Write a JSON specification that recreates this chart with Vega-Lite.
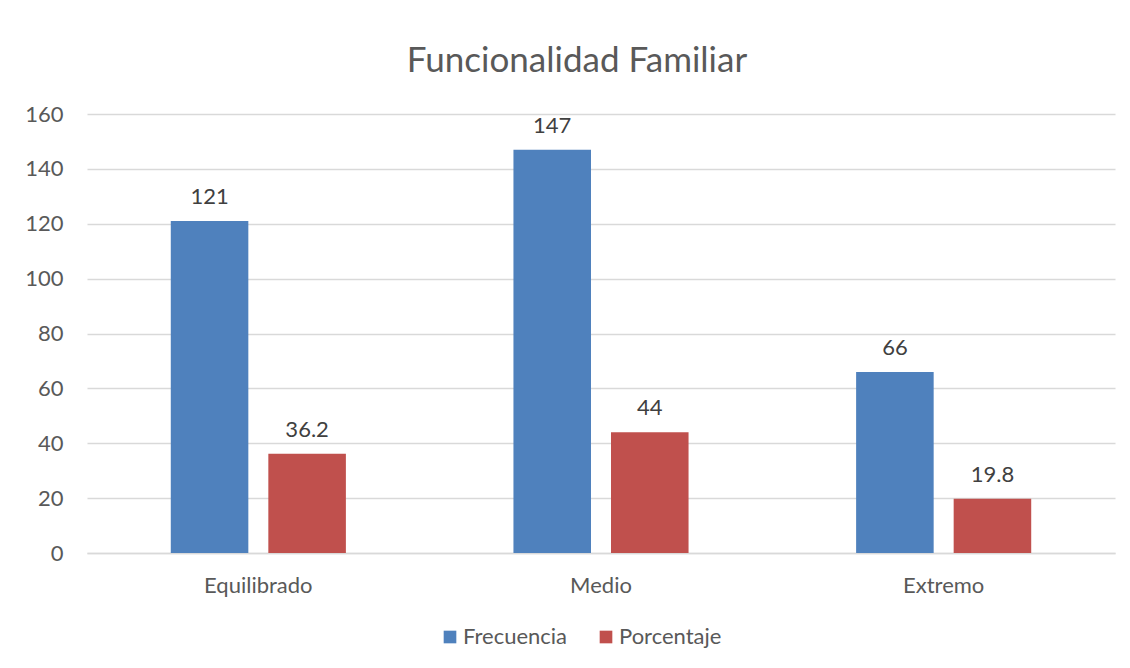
{
  "$schema": "https://vega.github.io/schema/vega-lite/v6.json",
  "autosize": "none",
  "width": 1028,
  "height": 439,
  "padding": {"left": 87, "top": 114, "right": 15, "bottom": 115},
  "background": "white",
  "title": {
    "text": "Funcionalidad Familiar",
    "font": "Lato",
    "fontSize": 35,
    "fontWeight": "normal",
    "color": "#595959",
    "anchor": "middle",
    "dx": -24,
    "offset": 24
  },
  "data": {
    "values": [
      {"categoria": "Equilibrado", "serie": "Frecuencia", "valor": 121},
      {"categoria": "Equilibrado", "serie": "Porcentaje", "valor": 36.2},
      {"categoria": "Medio", "serie": "Frecuencia", "valor": 147},
      {"categoria": "Medio", "serie": "Porcentaje", "valor": 44},
      {"categoria": "Extremo", "serie": "Frecuencia", "valor": 66},
      {"categoria": "Extremo", "serie": "Porcentaje", "valor": 19.8}
    ]
  },
  "encoding": {
    "x": {
      "field": "categoria",
      "type": "nominal",
      "sort": ["Equilibrado", "Medio", "Extremo"],
      "scale": {"paddingInner": 0.489, "paddingOuter": 0.2445},
      "axis": {
        "title": null,
        "labelAngle": 0,
        "labelFont": "Lato",
        "labelFontSize": 22,
        "labelColor": "#595959",
        "labelBaseline": "alphabetic",
        "labelPadding": 39,
        "ticks": false,
        "tickSize": 0,
        "domainColor": "#D9D9D9",
        "domainWidth": 1.5
      }
    },
    "xOffset": {
      "field": "serie",
      "type": "nominal",
      "sort": ["Frecuencia", "Porcentaje"],
      "scale": {"paddingInner": 0.205}
    },
    "y": {
      "field": "valor",
      "type": "quantitative",
      "scale": {"domain": [0, 160], "nice": false},
      "axis": {
        "title": null,
        "values": [0, 20, 40, 60, 80, 100, 120, 140, 160],
        "labelFont": "Lato",
        "labelFontSize": 22,
        "labelColor": "#595959",
        "labelPadding": 24,
        "ticks": false,
        "tickSize": 0,
        "domain": false,
        "gridColor": "#D9D9D9",
        "gridWidth": 1.5
      }
    }
  },
  "layer": [
    {
      "mark": {"type": "bar"},
      "encoding": {
        "color": {
          "field": "serie",
          "type": "nominal",
          "sort": ["Frecuencia", "Porcentaje"],
          "scale": {"domain": ["Frecuencia", "Porcentaje"], "range": ["#4F81BD", "#C0504D"]},
          "legend": {
            "title": null,
            "orient": "none",
            "direction": "horizontal",
            "legendX": 352,
            "legendY": 512,
            "symbolType": "square",
            "symbolSize": 160,
            "symbolStrokeWidth": 0,
            "labelFont": "Lato",
            "labelFontSize": 22,
            "labelColor": "#595959",
            "labelOffset": 2,
            "columnPadding": 27
          }
        }
      }
    },
    {
      "mark": {
        "type": "text",
        "font": "Lato",
        "fontSize": 22,
        "color": "#404040",
        "baseline": "alphabetic",
        "dy": -17
      },
      "encoding": {
        "text": {"field": "valor", "type": "quantitative"}
      }
    }
  ],
  "config": {
    "view": {"stroke": null}
  }
}
